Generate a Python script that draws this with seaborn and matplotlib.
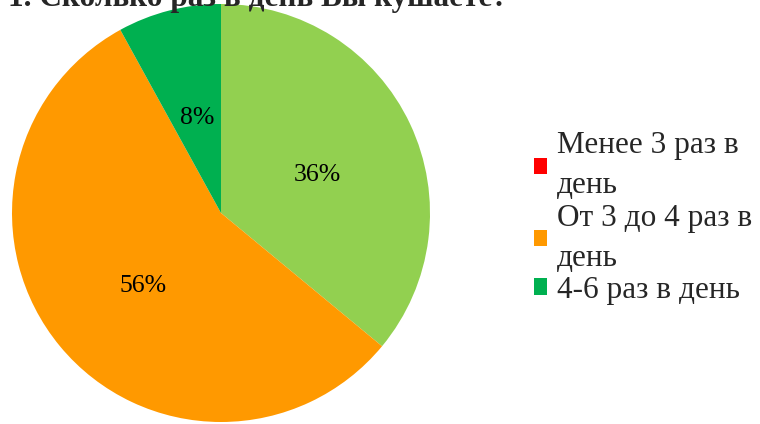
import matplotlib
matplotlib.use("Agg")
import matplotlib.pyplot as plt
from matplotlib.patches import Patch
import seaborn as sns

# Survey answers: share of respondents, in percent
categories = ["Более 6 раз в день", "Менее 3 раз в\nдень", "От 3 до 4 раз в\nдень", "4-6 раз в день"]
shares = [36, 0, 56, 8]
colors = ["#92D050", "#FF0000", "#FF9900", "#00B050"]
legend_items = [1, 2, 3]
title = "1. Сколько раз в день Вы кушаете?"

sns.set_theme(style="white")
plt.rcParams["font.family"] = ["Liberation Serif", "DejaVu Serif"]

fig = plt.figure(figsize=(7.6, 4.24), dpi=100)
ax = fig.add_axes([221 / 760 - 209 / 760, (424 - 213 - 209) / 424, 418 / 760, 418 / 424])

def fmt(p):
    return f"{p:.0f}%" if p >= 0.5 else ""

wedges, texts, autotexts = ax.pie(
    shares, colors=colors, startangle=90, counterclock=False,
    autopct=fmt, pctdistance=0.5,
    textprops=dict(fontsize=18.5, color="black"),
    wedgeprops=dict(linewidth=0))
# nudge the percentage labels slightly lower inside their wedges
for t in autotexts:
    x, y = t.get_position()
    t.set_position((x + 0.01, y - 0.03))
ax.set_aspect("equal")
ax.set_xlim(-1, 1)
ax.set_ylim(-1, 1)
ax.axis("off")

handles = [Patch(facecolor=colors[i], edgecolor="none") for i in legend_items]
labels = [categories[i] for i in legend_items]
leg = fig.legend(handles, labels, loc="center left", bbox_to_anchor=(534 / 760, 1 - 218 / 424),
                 frameon=False, handlelength=0.42, handleheight=0.42,
                 handletextpad=0.32, labelspacing=0.1, borderaxespad=0, borderpad=0,
                 prop=dict(family=["Liberation Serif"], size=22.5))
for t in leg.get_texts():
    t.set_linespacing(1.5)

fig.text(8 / 760, 1 - 6 / 424, title, fontsize=22.5, fontweight="bold",
         ha="left", va="baseline")

fig.savefig("out.png", dpi=100, facecolor="white")
